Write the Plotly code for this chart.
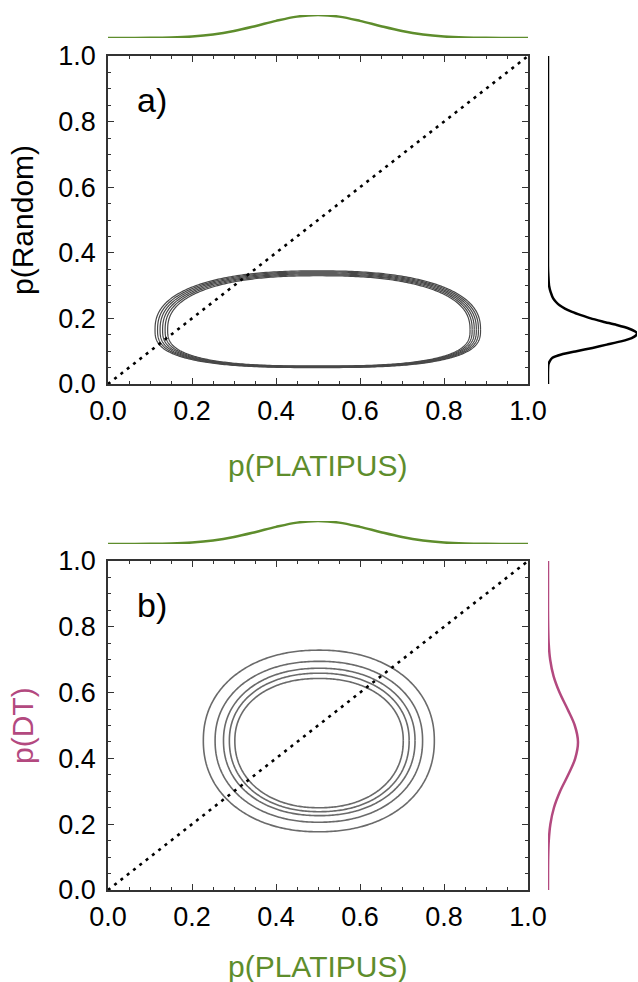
import numpy as np
import plotly.graph_objects as go

W, H = 638, 982

# ---------------- data ----------------
# top marginal: p(PLATIPUS) density (relative height, peak = 1)
platipus_p = [0.0, 0.05, 0.10, 0.15, 0.20, 0.25, 0.30, 0.35, 0.40, 0.45, 0.50,
              0.55, 0.60, 0.65, 0.70, 0.75, 0.80, 0.85, 0.90, 0.95, 1.0]
platipus_dens = [0.0, 0.003, 0.009, 0.027, 0.070, 0.157, 0.306, 0.514, 0.744, 0.929, 1.0,
                 0.929, 0.744, 0.514, 0.306, 0.157, 0.070, 0.027, 0.009, 0.003, 0.0]

# right marginal panel a: p(Random) density (relative, peak = 1)
random_p = [0.0, 0.04, 0.06, 0.07, 0.08, 0.09, 0.10, 0.11, 0.12, 0.13, 0.14, 0.15, 0.155,
            0.16, 0.17, 0.18, 0.19, 0.20, 0.21, 0.22, 0.23, 0.24, 0.25, 0.26, 0.28, 0.30,
            0.33, 0.36, 0.40, 1.0]
random_dens = [0.0, 0.0, 0.005, 0.02, 0.05, 0.15, 0.32, 0.50, 0.66, 0.82, 0.94, 0.995, 1.0,
               0.98, 0.90, 0.77, 0.62, 0.48, 0.37, 0.27, 0.19, 0.13, 0.09, 0.06, 0.03, 0.012,
               0.004, 0.0, 0.0, 0.0]

# right marginal panel b: p(DT) density (same scale as p(Random))
dt_p = [0.0, 0.05, 0.10, 0.15, 0.20, 0.25, 0.30, 0.35, 0.40, 0.45, 0.50,
        0.55, 0.60, 0.65, 0.70, 0.75, 0.80, 0.85, 0.90, 0.95, 1.0]
dt_dens = [0.0, 0.0005, 0.0023, 0.0086, 0.0266, 0.0667, 0.136, 0.227, 0.306, 0.337, 0.301,
           0.219, 0.130, 0.0625, 0.0245, 0.0078, 0.002, 0.0, 0.0, 0.0, 0.0]

# contour rings (extents)
ring_a_left = [0.112, 0.118, 0.124, 0.130, 0.136, 0.142]
ring_a_right = [0.887, 0.882, 0.877, 0.872, 0.867, 0.862]
ring_a_bottom = [0.050, 0.051, 0.052, 0.053, 0.054, 0.055]
ring_a_top = [0.345, 0.342, 0.339, 0.336, 0.333, 0.330]
ring_a_mid = 0.165

ring_b_left = [0.227, 0.255, 0.275, 0.289, 0.302]
ring_b_right = [0.777, 0.749, 0.731, 0.717, 0.703]
ring_b_bottom = [0.177, 0.206, 0.226, 0.238, 0.250]
ring_b_top = [0.729, 0.695, 0.674, 0.659, 0.643]
ring_b_mid = 0.454

diag = [0.0, 1.0]

GREEN = "#5e8d2c"
PINK = "#b3497f"
FONT = "Arial, Liberation Sans, sans-serif"


def ring(left, right, bottom, top, mid, n_top, n_bot, npts=400):
    t = np.linspace(0, 2 * np.pi, npts)
    c, s = np.cos(t), np.sin(t)
    cx, rx = (left + right) / 2, (right - left) / 2
    xs, ys = [], []
    for ci, si in zip(c, s):
        n = n_top if si >= 0 else n_bot
        X = np.sign(ci) * abs(ci) ** (2 / n)
        Y = np.sign(si) * abs(si) ** (2 / n)
        xs.append(cx + rx * X)
        ys.append(mid + Y * ((top - mid) if Y >= 0 else (mid - bottom)))
    return xs, ys


def px(x):
    return x / W


def py(y):
    return 1 - y / H


fig = go.Figure()

# ---- panel a ----
for l, r, b, t in zip(ring_a_left, ring_a_right, ring_a_bottom, ring_a_top):
    xs, ys = ring(l, r, b, t, ring_a_mid, 2.4, 2.8)
    fig.add_trace(go.Scatter(x=xs, y=ys, mode="lines", xaxis="x", yaxis="y",
                             line=dict(color="#484848", width=1.2, simplify=False),
                             showlegend=False, hoverinfo="skip"))
fig.add_trace(go.Scatter(x=diag, y=diag, mode="lines", xaxis="x", yaxis="y",
                         line=dict(color="black", width=2.6, dash="3px,5px"), showlegend=False))
fig.add_trace(go.Scatter(x=platipus_p, y=platipus_dens, mode="lines", xaxis="x2", yaxis="y2",
                         line=dict(color=GREEN, width=2.5, shape="spline"), cliponaxis=False,
                         showlegend=False))
fig.add_trace(go.Scatter(x=random_dens, y=random_p, mode="lines", xaxis="x3", yaxis="y3",
                         line=dict(color="black", width=2.5, shape="spline", smoothing=0.6),
                         cliponaxis=False, showlegend=False))

# ---- panel b ----
for l, r, b, t in zip(ring_b_left, ring_b_right, ring_b_bottom, ring_b_top):
    xs, ys = ring(l, r, b, t, ring_b_mid, 2.15, 2.15)
    fig.add_trace(go.Scatter(x=xs, y=ys, mode="lines", xaxis="x4", yaxis="y4",
                             line=dict(color="#6a6a6a", width=1.6, simplify=False),
                             showlegend=False, hoverinfo="skip"))
fig.add_trace(go.Scatter(x=diag, y=diag, mode="lines", xaxis="x4", yaxis="y4",
                         line=dict(color="black", width=2.6, dash="3px,5px"), showlegend=False))
fig.add_trace(go.Scatter(x=platipus_p, y=platipus_dens, mode="lines", xaxis="x5", yaxis="y5",
                         line=dict(color=GREEN, width=2.5, shape="spline"), cliponaxis=False,
                         showlegend=False))
fig.add_trace(go.Scatter(x=dt_dens, y=dt_p, mode="lines", xaxis="x6", yaxis="y6",
                         line=dict(color=PINK, width=2.5, shape="spline"),
                         cliponaxis=False, showlegend=False))

XD = [px(108), px(528)]
RD = [px(548), px(637)]
YA = [py(384), py(56)]
YB = [py(890), py(561)]

TICKSIZE = 27


def main_axis(domain, anchor, standoff):
    return dict(domain=domain, anchor=anchor, range=[0, 1], dtick=0.2, tick0=0,
                tickformat=".1f", ticks="inside", ticklen=6, tickwidth=1.2,
                tickcolor="#333", showline=True, linecolor="#333", linewidth=1.6,
                mirror="allticks", showgrid=False, zeroline=False, automargin=False,
                ticklabelstandoff=standoff,
                minor=dict(dtick=0.05, ticks="inside", ticklen=3, tickcolor="#333",
                           tickwidth=1, showgrid=False),
                tickfont=dict(family=FONT, size=TICKSIZE, color="black"))


hidden = dict(visible=False, showgrid=False, zeroline=False, range=[0, 1], automargin=False)

fig.update_layout(
    width=W, height=H, autosize=False,
    margin=dict(l=0, r=0, t=0, b=0, pad=0, autoexpand=False),
    paper_bgcolor="white", plot_bgcolor="white", showlegend=False,
    xaxis=main_axis(XD, "y", 2),
    yaxis=main_axis(YA, "x", 5),
    xaxis2=dict(hidden, domain=XD, anchor="y2"),
    yaxis2=dict(hidden, domain=[py(38), py(15)], anchor="x2"),
    xaxis3=dict(hidden, domain=RD, anchor="y3"),
    yaxis3=dict(hidden, domain=YA, anchor="x3"),
    xaxis4=main_axis(XD, "y4", 2),
    yaxis4=main_axis(YB, "x4", 5),
    xaxis5=dict(hidden, domain=XD, anchor="y5"),
    yaxis5=dict(hidden, domain=[py(544), py(521)], anchor="x5"),
    xaxis6=dict(hidden, domain=RD, anchor="y6"),
    yaxis6=dict(hidden, domain=YB, anchor="x6"),
)

ann = [
    dict(text="a)", x=px(152), y=py(100), font=dict(size=34, color="black")),
    dict(text="b)", x=px(152), y=py(605), font=dict(size=34, color="black")),
    dict(text="p(PLATIPUS)", x=px(318), y=py(465), font=dict(size=30, color=GREEN)),
    dict(text="p(PLATIPUS)", x=px(318), y=py(966), font=dict(size=30, color=GREEN)),
    dict(text="p(Random)", x=px(22), y=py(220), textangle=-90, font=dict(size=30, color="black")),
    dict(text="p(DT)", x=px(22), y=py(726), textangle=-90, font=dict(size=30, color=PINK)),
]
for a in ann:
    a.update(xref="paper", yref="paper", showarrow=False, xanchor="center", yanchor="middle")
    a["font"]["family"] = FONT
fig.update_layout(annotations=ann)

fig.write_html("out.html", config={"responsive": False})
